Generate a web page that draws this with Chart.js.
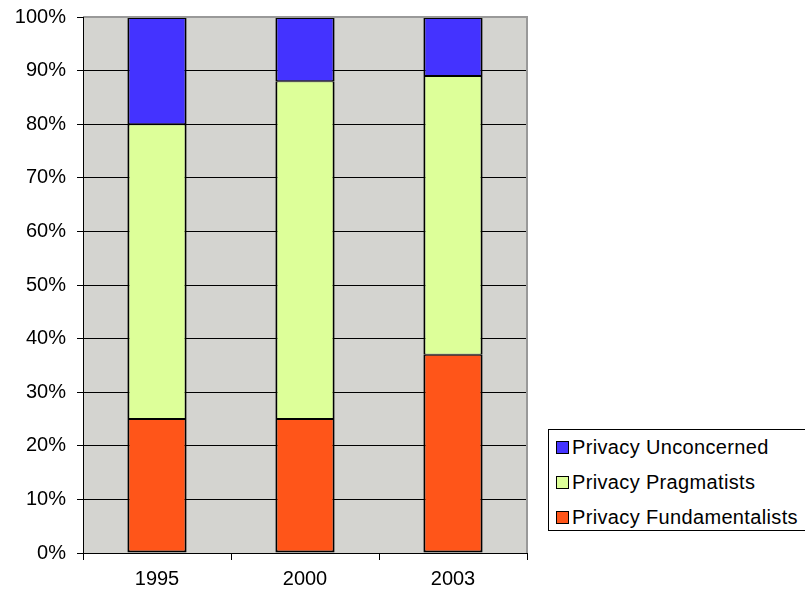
<!DOCTYPE html>
<html>
<head>
<meta charset="utf-8">
<script src="https://cdn.jsdelivr.net/npm/chart.js@4/dist/chart.umd.min.js"></script>
<style>
  html, body { margin: 0; padding: 0; background: #fff; }
  #wrap { position: relative; width: 805px; height: 594px; }
  #c { position: absolute; left: 0; top: 0; }
  #legend { position: absolute; left: 548px; top: 429px; width: 270px; height: 102px;
    border: 1px solid #000; background: #fff; box-sizing: border-box;
    font-family: "Liberation Sans", Arial, sans-serif; font-size: 20px; color: #000; letter-spacing: 0.35px; }
  .item { position: absolute; left: 7px; height: 24px; line-height: 24px; white-space: nowrap; }
  .sw { display: inline-block; width: 11px; height: 11px; border: 1px solid #000; margin-right: 3px; vertical-align: 0px; }
</style>
</head>
<body>
<div id="wrap">
  <canvas id="c" width="805" height="594"></canvas>
  <div id="legend"></div>
</div>
<script>
const categories = ["1995", "2000", "2003"];
const fundamentalists = [25, 25, 37];
const pragmatists = [55, 63, 52];
const unconcerned = [20, 12, 11];
const yTicks = [0, 10, 20, 30, 40, 50, 60, 70, 80, 90, 100];

const seriesNames = ["Privacy Fundamentalists", "Privacy Pragmatists", "Privacy Unconcerned"];
const seriesColors = ["#FF5519", "#DDFF99", "#4433FF"];
const seriesData = [fundamentalists, pragmatists, unconcerned];
const seriesBorders = [
  { left: 2, right: 2, top: 1, bottom: 2 },
  { left: 2, right: 2, top: 1, bottom: 1 },
  { left: 2, right: 2, top: 2, bottom: 1 }
];

const FONT = { family: "'Liberation Sans', Arial, sans-serif", size: 20 };

const bgPlugin = {
  id: 'bg',
  beforeDraw(chart) {
    const { ctx, chartArea: a } = chart;
    ctx.save();
    ctx.fillStyle = '#D4D4D0';
    ctx.fillRect(a.left, a.top, a.right - a.left, a.bottom - a.top);
    ctx.restore();
  },
  afterDraw(chart) {
    const { ctx, chartArea: a } = chart;
    ctx.save();
    ctx.strokeStyle = '#999999';
    ctx.lineWidth = 2;
    ctx.beginPath();
    ctx.moveTo(a.left, a.top);
    ctx.lineTo(a.right, a.top);
    ctx.lineTo(a.right, a.bottom);
    ctx.stroke();
    ctx.strokeStyle = '#000';
    ctx.lineWidth = 1;
    ctx.beginPath();
    ctx.moveTo(a.left + 0.5, a.top);
    ctx.lineTo(a.left + 0.5, a.bottom + 0.5);
    ctx.lineTo(a.right, a.bottom + 0.5);
    ctx.stroke();
    ctx.restore();
  }
};

new Chart(document.getElementById('c'), {
  type: 'bar',
  data: {
    labels: categories,
    datasets: seriesData.map((d, i) => ({
      label: seriesNames[i],
      data: d,
      backgroundColor: seriesColors[i],
      borderColor: '#000',
      borderWidth: seriesBorders[i],
      borderSkipped: false,
      categoryPercentage: 1,
      barPercentage: 0.4
    }))
  },
  options: {
    responsive: false,
    animation: false,
    layout: { padding: { top: 17, right: 278, left: 0, bottom: 0 } },
    plugins: { legend: { display: false }, tooltip: { enabled: false } },
    scales: {
      x: {
        stacked: true,
        afterFit(s) { s.height = 41; s.paddingLeft = 0; s.paddingRight = 0; },
        grid: { drawOnChartArea: false, drawTicks: true, tickLength: 7, color: '#000', offset: true },
        border: { display: false },
        ticks: { font: FONT, color: '#000', padding: 7 }
      },
      y: {
        stacked: true,
        min: 0, max: 100,
        afterFit(s) { s.width = 83; s.paddingTop = 0; s.paddingBottom = 0; },
        afterBuildTicks(s) { s.ticks = yTicks.map(v => ({ value: v })); },
        grid: { color: '#000', lineWidth: 1, drawTicks: true, tickLength: 6 },
        border: { display: false },
        ticks: { font: FONT, color: '#000', padding: 11, callback: v => v + '%' }
      }
    }
  },
  plugins: [bgPlugin]
});

const leg = document.getElementById('legend');
const order = [2, 1, 0];
order.forEach((idx, row) => {
  const it = document.createElement('div');
  it.className = 'item';
  it.style.top = (5 + row * 35) + 'px';
  const sw = document.createElement('span');
  sw.className = 'sw';
  sw.style.background = seriesColors[idx];
  it.appendChild(sw);
  it.appendChild(document.createTextNode(seriesNames[idx]));
  leg.appendChild(it);
});
</script>
</body>
</html>
